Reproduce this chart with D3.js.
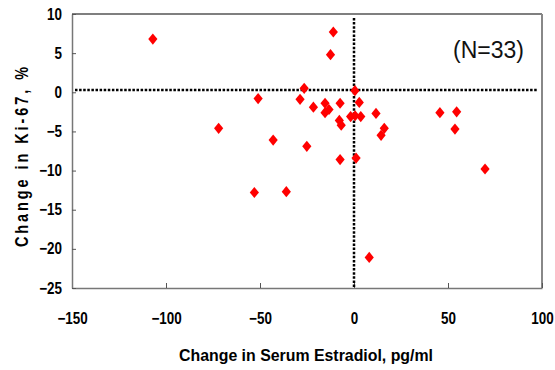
<!DOCTYPE html>
<html>
<head>
<meta charset="utf-8">
<script src="https://cdn.jsdelivr.net/npm/d3@7"></script>
<style>
  body { margin: 0; background: #fff; }
  svg { display: block; }
</style>
</head>
<body>
<div id="chart"></div>
<script>
// change in serum estradiol (pg/ml) vs change in Ki-67 (%)
const estradiolChange = [
  -107, -11, -12.5, -72, -51, -43, -53, -36,
  -26.5, -28.7, -21.6, -15.4, -13.3, -15.4, -7.4, -7.8, -6.8,
  0.5, 2.8, -1.8, 0.6, 3.6, 11.7, 16.1, 14.4, -25.1, -7.4, 1.1,
  45.7, 54.6, 53.7, 69.7, 8.1
];
const ki67Change = [
  6.8, 7.7, 4.8, -4.6, -0.8, -6.1, -12.8, -12.7,
  0.5, -0.9, -1.9, -1.4, -2.2, -2.6, -1.4, -3.6, -4.2,
  0.2, -1.3, -3.1, -3.0, -3.1, -2.7, -4.6, -5.5, -6.9, -8.6, -8.4,
  -2.6, -2.5, -4.7, -9.8, -21.1
];
const xTicks = [-150, -100, -50, 0, 50, 100];
const yTicks = [10, 5, 0, -5, -10, -15, -20, -25];
const refX = 0;
const refY = 0.3;
const noteText = '(N=33)';

const width = 555, height = 370;
const margin = {top: 14, right: 13, bottom: 82, left: 72};
const innerW = width - margin.left - margin.right,
    innerH = height - margin.top - margin.bottom;

const x = d3.scaleLinear().domain([-150, 100]).range([0, innerW]);
const y = d3.scaleLinear().domain([-25, 10]).range([innerH, 0]);

const labelFont = '"Liberation Sans", Arial, sans-serif';
const squeeze = 0.84;

const svg = d3.select('#chart')
    .append('svg')
    .attr('width', width)
    .attr('height', height);

const g = svg.append('g')
    .attr('transform', `translate(${margin.left},${margin.top})`);

// frame: top black, right gray
g.append('line')
    .attr('x1', 0).attr('x2', innerW).attr('y1', 0).attr('y2', 0)
    .attr('stroke', '#000').attr('stroke-width', 1.2);
g.append('line')
    .attr('x1', innerW).attr('x2', innerW).attr('y1', 0).attr('y2', innerH)
    .attr('stroke', '#888').attr('stroke-width', 2);

// X axis
const xAxis = g.append('g')
    .attr('transform', `translate(0,${innerH})`)
    .call(d3.axisBottom(x).tickValues(xTicks).tickSizeInner(-5).tickSizeOuter(0).tickPadding(25));
xAxis.select('.domain').attr('stroke', '#777').attr('stroke-width', 1.5);
xAxis.selectAll('.tick line').attr('stroke', '#555');
xAxis.selectAll('.tick text')
    .attr('font-family', labelFont).attr('font-weight', 'bold')
    .attr('font-size', 16).attr('fill', '#000')
    .attr('transform', `scale(${squeeze},1)`);

// Y axis
const yAxis = g.append('g')
    .call(d3.axisLeft(y).tickValues(yTicks).tickSizeInner(-4).tickSizeOuter(0).tickPadding(10));
yAxis.select('.domain').attr('stroke', '#777').attr('stroke-width', 1.5);
yAxis.selectAll('.tick line').attr('stroke', '#555');
yAxis.selectAll('.tick text')
    .attr('font-family', labelFont).attr('font-weight', 'bold')
    .attr('font-size', 16).attr('fill', '#000')
    .attr('x', -10 / squeeze)
    .attr('transform', `scale(${squeeze},1)`);

// dotted reference lines
g.append('line')
    .attr('x1', 3).attr('x2', innerW - 4)
    .attr('y1', y(refY)).attr('y2', y(refY))
    .attr('stroke', '#000').attr('stroke-width', 2.5)
    .attr('stroke-dasharray', '2.5,1.6');
g.append('line')
    .attr('x1', x(refX)).attr('x2', x(refX))
    .attr('y1', 4).attr('y2', innerH)
    .attr('stroke', '#000').attr('stroke-width', 2.5)
    .attr('stroke-dasharray', '2.5,1.6');

// data diamonds
const points = estradiolChange.map((d, i) => ({ex: d, ki: ki67Change[i]}));
g.selectAll('path.pt')
    .data(points)
    .enter().append('path')
    .attr('class', 'pt')
    .attr('d', 'M0,-5.6L4.6,0L0,5.6L-4.6,0Z')
    .attr('fill', '#f00')
    .attr('transform', d => `translate(${x(d.ex)},${y(d.ki)})`);

// N label
g.append('text')
    .attr('x', 452).attr('y', 44)
    .attr('text-anchor', 'end')
    .attr('font-family', '"Liberation Sans", Arial, sans-serif')
    .attr('font-size', 23)
    .attr('fill', '#111')
    .text(noteText);

// axis titles
svg.append('text')
    .attr('x', 179).attr('y', 361)
    .attr('textLength', 254).attr('lengthAdjust', 'spacingAndGlyphs')
    .attr('font-family', labelFont).attr('font-weight', 'bold')
    .attr('font-size', 16)
    .text('Change in Serum Estradiol, pg/ml');

svg.append('text')
    .attr('transform', 'translate(28,247) rotate(-90) scale(0.8,1)')
    .attr('textLength', 225).attr('lengthAdjust', 'spacing')
    .attr('font-family', labelFont).attr('font-weight', 'bold')
    .attr('font-size', 18)
    .text('Change in Ki-67, %');
</script>
</body>
</html>
